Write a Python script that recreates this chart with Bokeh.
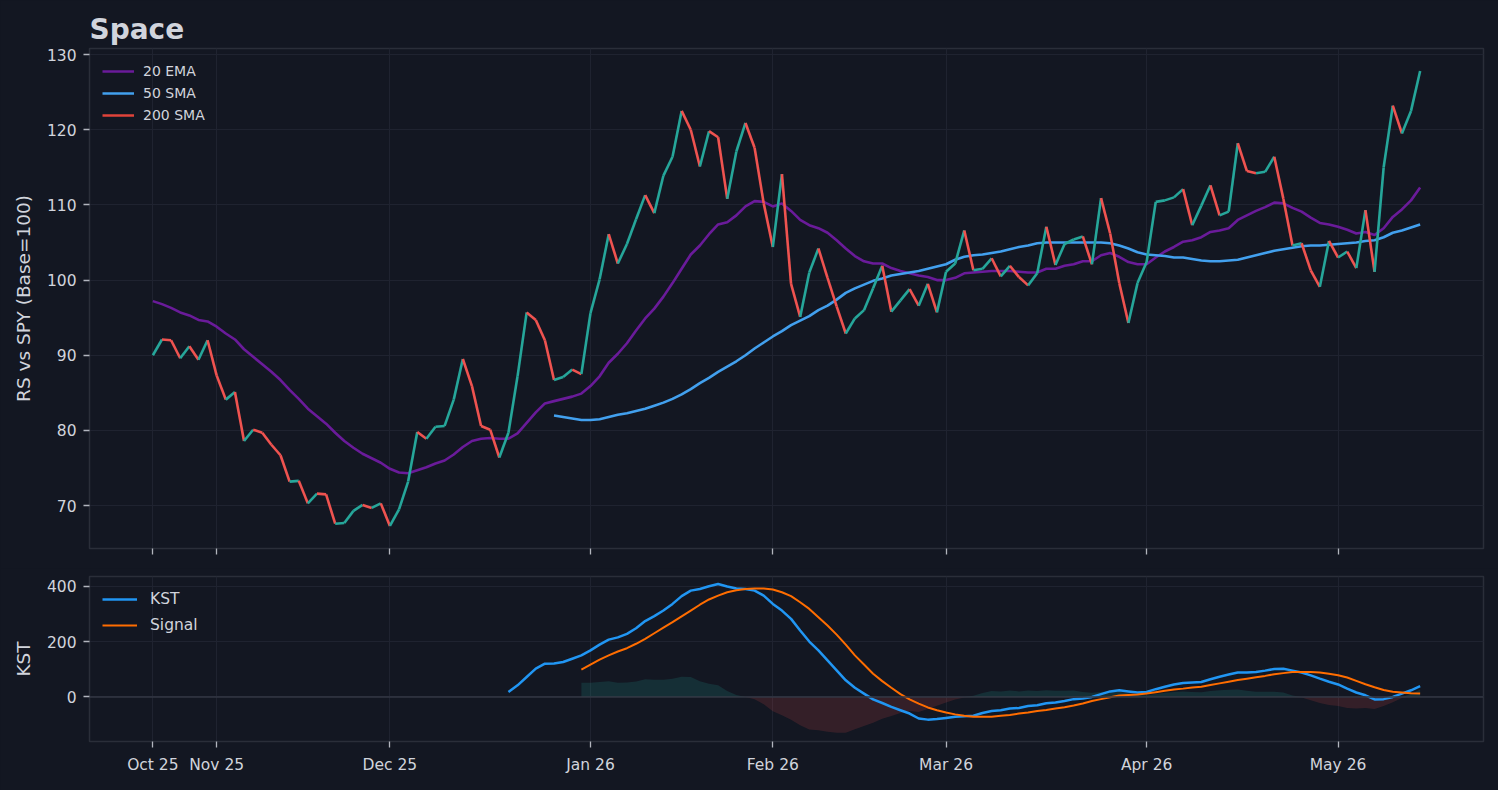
import numpy as np
import pandas as pd
from bokeh.plotting import figure
from bokeh.layouts import column
from bokeh.models import (Range1d, FixedTicker, Span, Legend, LegendItem, ColumnDataSource,
                          CustomLabelingPolicy)
from bokeh.embed import file_html
from bokeh.resources import INLINE

# ---------------- data ----------------
title = "Space"
start_date = "2025-10-23"
end_date = "2026-05-14"
market_holidays = ["2025-11-27", "2025-12-25", "2026-01-01", "2026-01-19", "2026-02-16", "2026-04-03"]

rs = [90.0, 92.1, 92.0, 89.6, 91.2, 89.4, 92.0, 87.3, 84.1, 85.1,
      78.6, 80.1, 79.7, 78.1, 76.7, 73.2, 73.3, 70.3, 71.6, 71.5,
      67.6, 67.7, 69.3, 70.1, 69.7, 70.3, 67.3, 69.5, 73.2, 79.8,
      78.9, 80.5, 80.6, 84.1, 89.5, 85.9, 80.6, 80.1, 76.4, 79.7,
      87.2, 95.7, 94.7, 92.0, 86.7, 87.1, 88.1, 87.5, 95.6, 100.1,
      106.1, 102.2, 104.8, 108.1, 111.3, 108.9, 113.9, 116.4, 122.5, 120.0,
      115.1, 119.8, 119.0, 110.8, 117.1, 120.9, 117.6, 110.2, 104.4, 114.1,
      99.5, 95.1, 101.0, 104.2, 100.3, 96.5, 92.9, 94.9, 96.0, 98.9,
      101.9, 95.8, 97.3, 98.8, 96.6, 99.5, 95.7, 101.1, 102.2, 106.6,
      101.3, 101.5, 102.9, 100.5, 101.9, 100.4, 99.3, 100.9, 107.1, 102.0,
      104.8, 105.4, 105.8, 102.1, 110.9, 106.2, 99.6, 94.3, 99.6, 102.4,
      110.4, 110.6, 111.0, 112.1, 107.3, 109.9, 112.6, 108.6, 109.1, 118.2,
      114.5, 114.2, 114.4, 116.4, 110.8, 104.6, 104.9, 101.3, 99.1, 105.2,
      103.0, 103.8, 101.6, 109.3, 101.1, 115.0, 123.2, 119.5, 122.5, 127.8]

ema20 = [97.2, 96.8, 96.3, 95.7, 95.3, 94.7, 94.5, 93.8, 92.9, 92.1,
         90.8, 89.8, 88.8, 87.8, 86.7, 85.4, 84.2, 82.9, 81.9, 80.9,
         79.7, 78.6, 77.7, 76.9, 76.3, 75.7, 74.9, 74.4, 74.3, 74.7,
         75.1, 75.6, 76.0, 76.8, 77.8, 78.6, 78.9, 79.0, 78.9, 78.9,
         79.6, 81.0, 82.4, 83.6, 83.9, 84.2, 84.5, 84.9, 85.9, 87.2,
         89.0, 90.2, 91.6, 93.3, 94.9, 96.2, 97.8, 99.6, 101.5, 103.4,
         104.6, 106.1, 107.4, 107.7, 108.6, 109.8, 110.5, 110.4, 109.8, 110.2,
         109.2, 108.0, 107.3, 106.9, 106.3, 105.3, 104.2, 103.2, 102.5, 102.2,
         102.2, 101.6, 101.2, 100.9, 100.6, 100.4, 100.0, 100.0, 100.3, 100.9,
         101.0, 101.1, 101.2, 101.2, 101.2, 101.1, 101.0, 101.0, 101.5, 101.5,
         101.9, 102.1, 102.5, 102.5, 103.3, 103.6, 103.1, 102.4, 102.1, 102.1,
         103.0, 103.8, 104.4, 105.1, 105.3, 105.7, 106.4, 106.6, 106.9, 108.0,
         108.6, 109.2, 109.7, 110.3, 110.2, 109.6, 109.1, 108.3, 107.6, 107.4,
         107.1, 106.7, 106.2, 106.4, 106.0, 106.9, 108.4, 109.4, 110.6, 112.3]

# 50 SMA (available for the last len(sma50) sessions)
sma50 = [82.0, 81.8, 81.6, 81.4, 81.4, 81.5, 81.8, 82.1, 82.3, 82.6,
         82.9, 83.3, 83.7, 84.2, 84.8, 85.5, 86.3, 87.0, 87.8, 88.5,
         89.2, 90.0, 90.9, 91.7, 92.5, 93.2, 94.0, 94.6, 95.2, 96.0,
         96.6, 97.4, 98.3, 98.9, 99.4, 99.9, 100.2, 100.6, 100.8, 101.0,
         101.2, 101.5, 101.8, 102.1, 102.7, 103.1, 103.3, 103.4, 103.6, 103.8,
         104.1, 104.4, 104.6, 104.9, 105.0, 105.0, 105.0, 105.0, 105.0, 105.0,
         105.0, 104.9, 104.6, 104.2, 103.7, 103.4, 103.3, 103.2, 103.0, 103.0,
         102.8, 102.6, 102.5, 102.5, 102.6, 102.7, 103.0, 103.3, 103.6, 103.9,
         104.1, 104.3, 104.5, 104.6, 104.6, 104.7, 104.8, 104.9, 105.0, 105.2,
         105.3, 105.7, 106.3, 106.6, 107.0, 107.4]

# 200 SMA: not enough history, no values
sma200 = []

kst = [18, 42, 72, 102, 120, 121, 126, 138, 150, 168,
       189, 207, 215, 228, 248, 274, 292, 312, 336, 364,
       384, 390, 400, 408, 399, 392, 390, 384, 366, 336,
       312, 282, 240, 200, 168, 132, 96, 60, 33, 12,
       -9, -22, -36, -48, -60, -78, -82, -80, -76, -72,
       -70, -68, -58, -51, -48, -42, -40, -33, -30, -23,
       -20, -15, -8, -6, 0, 10, 20, 24, 20, 16,
       18, 28, 37, 45, 50, 52, 54, 64, 73, 81,
       88, 88, 90, 95, 101, 102, 95, 88, 78, 66,
       55, 45, 30, 16, 6, -9, -8, 0, 12, 24,
       39]

signal = [99, 117, 135,
          150, 164, 176, 192, 210, 230, 250, 270, 291, 312,
          333, 352, 366, 378, 385, 390, 392, 392, 388, 378,
          364, 342, 318, 288, 258, 225, 189, 150, 117, 84,
          57, 33, 10, -9, -24, -38, -48, -56, -63, -68,
          -72, -72, -72, -68, -65, -60, -56, -51, -47, -42,
          -37, -31, -24, -15, -8, -1, 5, 7, 9, 12,
          17, 22, 27, 30, 34, 37, 43, 49, 55, 61,
          66, 71, 76, 82, 86, 90, 90, 90, 88, 84,
          78, 70, 58, 46, 35, 25, 19, 16, 13, 12]

y_ticks_rs = [70, 80, 90, 100, 110, 120, 130]
y_ticks_kst = [0, 200, 400]

# ---------------- styles ----------------
BG = "#131722"
GRID = "#1f2330"
FRAME = "#2a2e39"
TEXT = "#d1d4dc"
UP = "#26a69a"
DOWN = "#ef5350"
C_EMA = "#6a1b9a"
C_SMA50 = "#42a0ee"
C_SMA200 = "#e0433a"
C_KST = "#2196f3"
C_SIG = "#ff6d00"
FONT = "DejaVu Sans"

# ---------------- derived ----------------
dates = pd.bdate_range(start_date, end_date, freq="C", holidays=market_holidays)
n = len(rs)
dates = dates[:n]
x = np.arange(n)
tick_idx = [i for i in range(n) if i == 0 or dates[i].month != dates[i - 1].month]
tick_labels = {int(i): dates[i].strftime("%b %y") for i in tick_idx}

rs_arr = np.array(rs, dtype=float)
seg_src = ColumnDataSource(dict(
    x0=x[:-1], y0=rs_arr[:-1], x1=x[1:], y1=rs_arr[1:],
    color=[UP if rs_arr[i + 1] >= rs_arr[i] else DOWN for i in range(n - 1)]))

x_sma = np.arange(n - len(sma50), n)
x_kst = np.arange(n - len(kst), n)
x_sig = np.arange(n - len(signal), n)
kst_arr = np.array(kst, dtype=float)
sig_arr = np.array(signal, dtype=float)
hist = kst_arr[len(kst) - len(signal):] - sig_arr

x_pad = (n - 1) * 0.05
xr = (-x_pad, n - 1 + x_pad)

W = 1498


def style(p):
    p.background_fill_color = BG
    p.border_fill_color = BG
    p.outline_line_color = FRAME
    p.outline_line_width = 1.5
    for ax in (p.xaxis, p.yaxis):
        ax.axis_line_color = None
        ax.major_tick_line_color = "#b2b5be"
        ax.major_tick_line_width = 1.3
        ax.major_tick_out = 6
        ax.major_tick_in = 0
        ax.minor_tick_line_color = None
        ax.major_label_text_color = TEXT
        ax.major_label_text_font = FONT
        ax.major_label_text_font_size = "15.5px"
        ax.axis_label_text_color = TEXT
        ax.axis_label_text_font = FONT
        ax.axis_label_text_font_style = "normal"
        ax.axis_label_text_font_size = "18.5px"
    p.xaxis.ticker = FixedTicker(ticks=tick_idx)
    p.xaxis.major_label_overrides = tick_labels
    p.xgrid.ticker = FixedTicker(ticks=tick_idx)
    p.grid.grid_line_color = GRID
    p.grid.grid_line_width = 1
    p.yaxis.major_label_standoff = 7
    p.yaxis.axis_label_standoff = 10


# ---------------- top panel ----------------
p1 = figure(width=W, height=568, x_range=Range1d(*xr),
            y_range=Range1d(64.3, 130.8),
            output_backend="svg", toolbar_location=None,
            min_border_left=89, min_border_right=15, min_border_top=48, min_border_bottom=20)
style(p1)
p1.title.text = title
p1.title.text_font = FONT
p1.title.text_font_size = "28px"
p1.title.text_font_style = "bold"
p1.title.text_color = TEXT
p1.title.align = "left"
p1.title.standoff = 5
p1.yaxis.axis_label = "RS vs SPY (Base=100)"
p1.yaxis.ticker = FixedTicker(ticks=y_ticks_rs)
# tick marks only on the upper panel: no labels drawn there
p1.xaxis.major_label_policy = CustomLabelingPolicy(code="return new Set()")
p1.xaxis.major_label_text_font_size = "1px"
p1.xaxis.major_label_standoff = 0

r_ema = p1.line(x, ema20, line_color=C_EMA, line_width=2.6)
r_sma = p1.line(x_sma, sma50, line_color=C_SMA50, line_width=2.6)
sma200_y = np.full(n, np.nan)
if len(sma200):
    sma200_y[n - len(sma200):] = sma200
r_sma200 = p1.line(x, sma200_y, line_color=C_SMA200, line_width=2.6)
p1.segment("x0", "y0", "x1", "y1", source=seg_src, line_color="color", line_width=2.6)

leg1 = Legend(items=[LegendItem(label="20 EMA", renderers=[r_ema]),
                     LegendItem(label="50 SMA", renderers=[r_sma]),
                     LegendItem(label="200 SMA", renderers=[r_sma200])],
              location="top_left", background_fill_alpha=0, border_line_alpha=0,
              label_text_color=TEXT, label_text_font=FONT, label_text_font_size="14px",
              glyph_width=32, glyph_height=20, label_standoff=9, spacing=2,
              margin=5, padding=8)
p1.add_layout(leg1)

# ---------------- bottom panel ----------------
p2 = figure(width=W, height=222, x_range=p1.x_range,
            y_range=Range1d(-161, 435),
            output_backend="svg", toolbar_location=None,
            min_border_left=89, min_border_right=15, min_border_top=8, min_border_bottom=49)
style(p2)
p2.yaxis.axis_label = "KST"
p2.yaxis.ticker = FixedTicker(ticks=y_ticks_kst)
p2.xaxis.major_label_standoff = 8

p2.varea(x_sig, 0, np.maximum(hist, 0), fill_color=UP, fill_alpha=0.17)
p2.varea(x_sig, np.minimum(hist, 0), 0, fill_color=DOWN, fill_alpha=0.15)
p2.add_layout(Span(location=0, dimension="width", line_color="#333743", line_width=1.6))
r_kst = p2.line(x_kst, kst, line_color=C_KST, line_width=2.5)
r_sig = p2.line(x_sig, signal, line_color=C_SIG, line_width=2.0)

leg2 = Legend(items=[LegendItem(label="KST", renderers=[r_kst]),
                     LegendItem(label="Signal", renderers=[r_sig])],
              location="top_left", background_fill_alpha=0, border_line_alpha=0,
              label_text_color=TEXT, label_text_font=FONT, label_text_font_size="15.5px",
              glyph_width=35, glyph_height=20, label_standoff=13, spacing=6,
              margin=5, padding=8)
p2.add_layout(leg2)

layout = column(p1, p2)
layout.styles = {"background-color": BG}

html = file_html(layout, INLINE, title=title)
open("out.html", "w").write(html)
